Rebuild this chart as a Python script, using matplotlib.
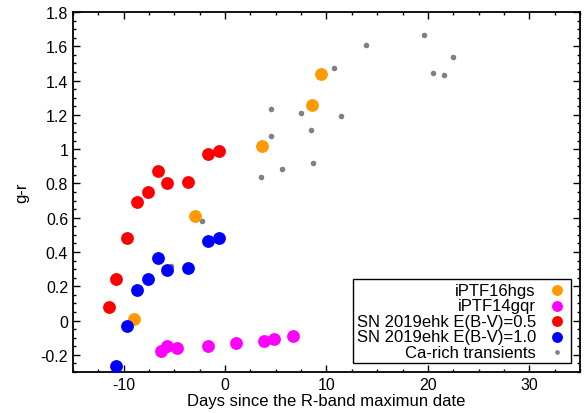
import matplotlib
matplotlib.use("Agg")
import matplotlib.pyplot as plt
from matplotlib.ticker import MultipleLocator, FuncFormatter

plt.rcParams['font.family'] = ['Liberation Sans', 'DejaVu Sans']
plt.rcParams['axes.unicode_minus'] = False

# g-r colour evolution
hgs_days = [-9.0, -3.0, 3.6, 8.6, 9.5]
hgs_gr = [0.01, 0.61, 1.02, 1.26, 1.44]

gqr_days = [-6.35, -5.75, -4.7, -1.65, 1.05, 3.85, 4.8, 6.65]
gqr_gr = [-0.18, -0.15, -0.16, -0.15, -0.13, -0.12, -0.11, -0.09]

ehk05_days = [-11.5, -10.75, -9.65, -8.65, -7.65, -6.65, -5.7, -3.7, -1.7, -0.6]
ehk05_gr = [0.08, 0.245, 0.48, 0.69, 0.75, 0.875, 0.80, 0.81, 0.97, 0.99]

ehk10_days = [-10.8, -9.65, -8.65, -7.65, -6.65, -5.7, -3.7, -1.7, -0.6]
ehk10_gr = [-0.265, -0.03, 0.18, 0.24, 0.365, 0.295, 0.305, 0.465, 0.48]

carich_days = [-5.35, -2.3, 3.5, 4.55, 4.55, 5.65, 7.5, 8.45, 8.7,
               10.75, 11.45, 13.85, 19.6, 20.55, 21.6, 22.5]
carich_gr = [0.32, 0.58, 0.84, 1.235, 1.075, 0.885, 1.21, 1.11, 0.92,
             1.475, 1.195, 1.605, 1.665, 1.445, 1.435, 1.535]

fig = plt.figure(figsize=(5.87, 4.14), dpi=100)
ax = fig.add_axes([0.1244, 0.099, 0.8636, 0.8696])

big = 85
ax.scatter(hgs_days, hgs_gr, s=big, color='#FF9900', label='iPTF16hgs', zorder=3, linewidths=0)
ax.scatter(gqr_days, gqr_gr, s=big, color='#FF00FF', label='iPTF14gqr', zorder=3, linewidths=0)
ax.scatter(ehk05_days, ehk05_gr, s=big, color='#FF0000', label='SN 2019ehk E(B-V)=0.5', zorder=3, linewidths=0)
ax.scatter(ehk10_days, ehk10_gr, s=big, color='#0000FF', label='SN 2019ehk E(B-V)=1.0', zorder=3, linewidths=0)
ax.scatter(carich_days, carich_gr, s=16, color='#808080', label='Ca-rich transients', zorder=2, linewidths=0)

ax.set_xlim(-15, 35)
ax.set_ylim(-0.3, 1.8)
ax.xaxis.set_major_locator(MultipleLocator(10))
ax.xaxis.set_minor_locator(MultipleLocator(2.5))
ax.yaxis.set_major_locator(MultipleLocator(0.2))
ax.yaxis.set_minor_locator(MultipleLocator(0.05))
ax.yaxis.set_major_formatter(FuncFormatter(lambda v, p: ('%g' % round(v, 2)) if abs(v) > 1e-9 else '0'))

ax.tick_params(which='both', direction='in', top=True, right=True, labelsize=11.5, width=1)
ax.tick_params(which='major', length=5)
ax.tick_params(which='minor', length=2.5)
for sp in ax.spines.values():
    sp.set_linewidth(1.3)

ax.set_xlabel('Days since the R-band maximun date', fontsize=12, labelpad=1)
ax.set_ylabel('g-r', fontsize=12, labelpad=8)

leg = ax.legend(loc='lower right', markerfirst=False, fontsize=12, frameon=True,
                fancybox=False, framealpha=1, edgecolor='black', borderpad=0.2,
                labelspacing=0.03, handletextpad=0.6, handlelength=1.3,
                borderaxespad=0.55, markerscale=0.85)
leg.get_frame().set_linewidth(1.0)

fig.savefig('out.png', dpi=100)
